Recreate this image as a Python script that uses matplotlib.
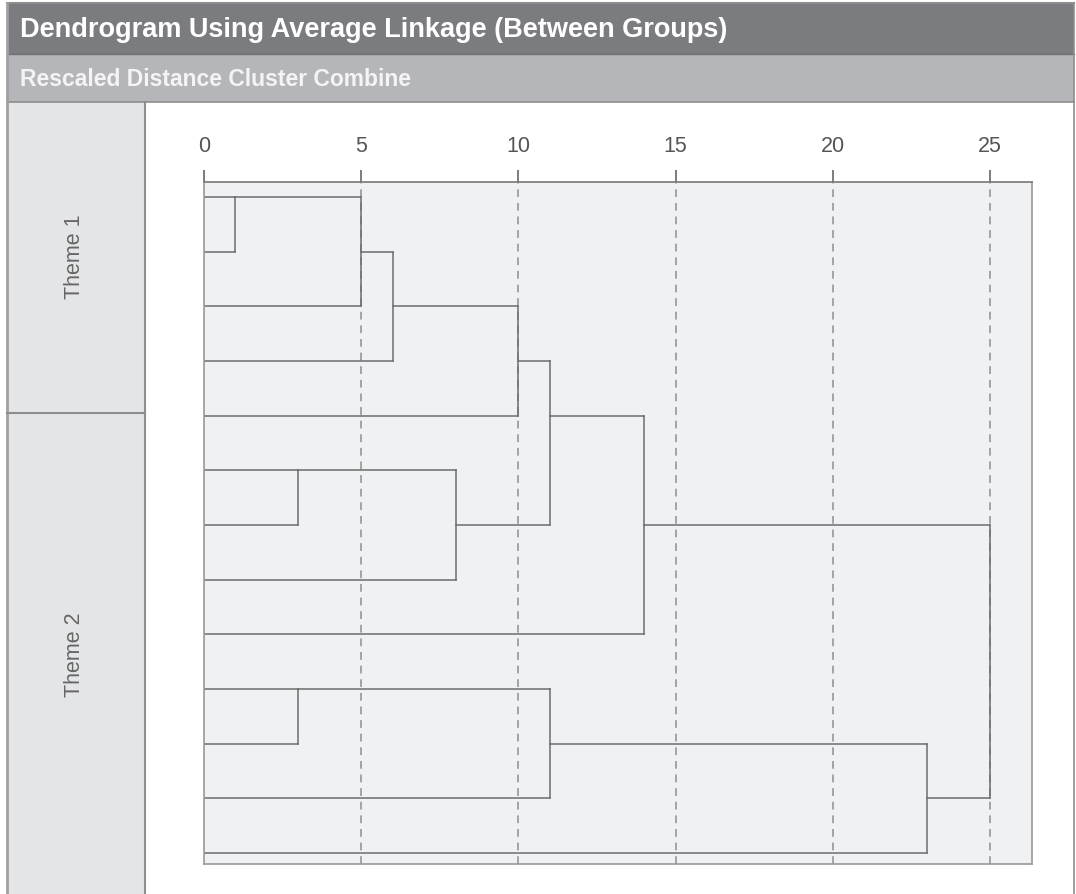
import numpy as np
import matplotlib
matplotlib.use("Agg")
import matplotlib.pyplot as plt
from matplotlib.patches import Rectangle

# ---------- DATA ----------
title = "Dendrogram Using Average Linkage (Between Groups)"
subtitle = "Rescaled Distance Cluster Combine"
group_labels = ["Theme 1", "Theme 2"]
n_leaves = 13
# merges in scipy style: leaves are 0..12, new clusters get ids 13, 14, ...
merge_a = [0, 13, 14, 15, 5, 17, 16, 19, 9, 21, 22, 20]
merge_b = [1, 2, 3, 4, 6, 7, 18, 8, 10, 11, 12, 23]
merge_dist = [1, 5, 6, 10, 3, 8, 11, 14, 3, 11, 23, 25]
x_ticks = [0, 5, 10, 15, 20, 25]

# ---------- STYLE ----------
W, H = 1076, 894
plt.rcParams['font.family'] = ['Liberation Sans', 'DejaVu Sans']
dark_bar = "#7b7c80"
light_bar = "#b5b6b9"
side_col = "#e4e5e7"
box_col = "#f0f1f3"
frame_col = "#8e8e8e"
line_col = "#6c6c6c"

fig = plt.figure(figsize=(W / 100, H / 100), dpi=100)
bg = fig.add_axes([0, 0, 1, 1])
bg.set_xlim(0, W)
bg.set_ylim(H, 0)
bg.axis("off")

# header bars and side column
bg.add_patch(Rectangle((7, 3), 1067, 51, facecolor=dark_bar, edgecolor="none"))
bg.add_patch(Rectangle((7, 54), 1067, 48, facecolor=light_bar, edgecolor="none"))
bg.add_patch(Rectangle((7, 102), 138, H - 102, facecolor=side_col, edgecolor="none"))
bg.plot([7, 1074], [3, 3], color=frame_col, lw=1.5)
bg.plot([7, 1074], [54, 54], color="#6f7074", lw=1)
bg.plot([7, 1074], [102, 102], color=frame_col, lw=1.2)
bg.plot([7, 7], [3, H], color="#a0a0a0", lw=2)
bg.plot([1074, 1074], [3, H], color=frame_col, lw=1.2)
bg.plot([145, 145], [102, H], color=frame_col, lw=1.5)
bg.plot([7, 145], [413, 413], color=frame_col, lw=1.5)

bg.text(20, 30, title, color="white", fontsize=19.5, fontweight="bold", va="center", ha="left")
bg.text(20, 80, subtitle, color="#f4f4f4", fontsize=16.5, fontweight="bold", va="center", ha="left")
bg.text(75, 257, group_labels[0], color="#666666", fontsize=15.5, rotation=90, va="center", ha="center")
bg.text(75, 655, group_labels[1], color="#666666", fontsize=15.5, rotation=90, va="center", ha="center")

# ---------- DENDROGRAM ----------
box_l, box_r, box_t, box_b = 204, 1032, 182, 864
unit = (990 - 204) / 25.0
leaf0, step = 197.0, 54.67
ax = fig.add_axes([box_l / W, 1 - box_b / H, (box_r - box_l) / W, (box_b - box_t) / H])
ax.set_facecolor(box_col)
ax.set_xlim(0, (box_r - box_l) / unit)
ax.set_ylim((box_b - leaf0) / step, (box_t - leaf0) / step)

pos = {i: i for i in range(n_leaves)}
height = {i: 0 for i in range(n_leaves)}
for k, (a, b, d) in enumerate(zip(merge_a, merge_b, merge_dist)):
    ax.plot([height[a], d], [pos[a], pos[a]], color=line_col, lw=1.1, solid_capstyle="projecting")
    ax.plot([height[b], d], [pos[b], pos[b]], color=line_col, lw=1.1, solid_capstyle="projecting")
    ax.plot([d, d], [pos[a], pos[b]], color=line_col, lw=1.1)
    cid = n_leaves + k
    pos[cid] = int(np.floor((pos[a] + pos[b]) / 2))
    height[cid] = d

for t in x_ticks[1:]:
    ax.axvline(t, color="#a3a3a3", lw=1.4, ls=(0, (4, 3)), zorder=0)

ax.xaxis.tick_top()
ax.set_xticks(x_ticks)
ax.set_xticklabels([str(t) for t in x_ticks])
ax.tick_params(axis="x", direction="out", length=9, width=1.2, color="#666666",
               labelsize=15.5, labelcolor="#555555", pad=9)
ax.set_yticks([])
for side in ["left", "bottom", "right"]:
    ax.spines[side].set_color("#999999")
    ax.spines[side].set_linewidth(1.2)
ax.spines["top"].set_color("#777777")
ax.spines["top"].set_linewidth(1.2)

fig.savefig("out.png", dpi=100)
